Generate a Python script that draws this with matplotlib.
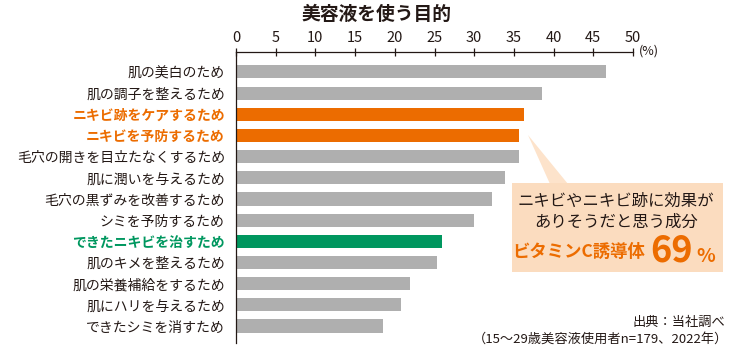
import numpy as np
import matplotlib.pyplot as plt
from matplotlib.patches import Rectangle, Polygon

plt.rcParams['font.family'] = ['Noto Sans CJK JP', 'DejaVu Sans']

# Datos
labels = ['肌の美白のため', '肌の調子を整えるため', 'ニキビ跡をケアするため',
          'ニキビを予防するため', '毛穴の開きを目立たなくするため',
          '肌に潤いを与えるため', '毛穴の黒ずみを改善するため',
          'シミを予防するため', 'できたニキビを治すため',
          '肌のキメを整えるため', '肌の栄養補給をするため',
          '肌にハリを与えるため', 'できたシミを消すため']
values = [46.6, 38.5, 36.3, 35.6, 35.6, 33.9, 32.2, 30.0, 25.9, 25.3,
          21.9, 20.8, 18.5]
groups = ['gray', 'gray', 'orange', 'orange', 'gray', 'gray', 'gray', 'gray',
          'green', 'gray', 'gray', 'gray', 'gray']
ticks = [0, 5, 10, 15, 20, 25, 30, 35, 40, 45, 50]

palette = {'gray': '#AFAFAF', 'orange': '#EC6C00', 'green': '#00975F'}
text_colors = {'gray': '#231815', 'orange': '#EC6C00', 'green': '#00975F'}

W, H = 750, 357
fig = plt.figure(figsize=(W / 100, H / 100), dpi=100)
ax = fig.add_axes([236 / W, 1 - 343 / H, (633 - 236) / W, (343 - 52) / H])

y = np.arange(len(labels))
ax.barh(y, values, height=0.62, color=[palette[g] for g in groups])
ax.set_xlim(0, 50)
ax.set_ylim(12.8, -0.94)

ax.set_yticks(y)
ax.set_yticklabels(labels, fontsize=10)
for lbl, g in zip(ax.get_yticklabels(), groups):
    lbl.set_color(text_colors[g])
    if g != 'gray':
        lbl.set_fontweight('bold')
ax.tick_params(axis='y', length=0, pad=8)

ax.xaxis.tick_top()
ax.set_xticks(ticks)
ax.tick_params(axis='x', direction='inout', length=6, width=0.9,
               labelsize=10.5, pad=2, colors='#231815')
for s in ['right', 'bottom']:
    ax.spines[s].set_visible(False)
for s in ['left', 'top']:
    ax.spines[s].set_linewidth(0.9)
    ax.spines[s].set_color('#231815')

def fx(px):
    return px / W

def fy(py):
    return 1 - py / H

fig.text(fx(376), fy(14), '美容液を使う目的', ha='center', va='center',
         fontsize=13.5, fontweight='bold', color='#231815')
fig.text(fx(639), fy(51), '(%)', ha='left', va='center', fontsize=9,
         color='#231815')

# Globo de texto
box_color = '#FBDCBF'
fig.patches.append(Polygon([(fx(528), fy(135)), (fx(550), fy(184)),
                            (fx(568), fy(184))], closed=True,
                           transform=fig.transFigure, facecolor='#FDE3CB',
                           edgecolor='none'))
fig.patches.append(Rectangle((fx(512), fy(272)), fx(723) - fx(512),
                             fy(183) - fy(272), transform=fig.transFigure,
                             facecolor=box_color, edgecolor='none'))
fig.text(fx(616), fy(201), 'ニキビやニキビ跡に効果が', ha='center', va='center',
         fontsize=11.8, color='#231815')
fig.text(fx(616), fy(222), 'ありそうだと思う成分', ha='center', va='center',
         fontsize=11.8, color='#231815')
fig.text(fx(512), fy(252), 'ビタミンC誘導体', ha='left', va='center',
         fontsize=12.5, fontweight='bold', color='#EC6C00')
fig.text(fx(650), fy(251), '69', ha='left', va='center', fontsize=26,
         fontweight='bold', color='#EC6C00')
fig.text(fx(696), fy(256), '%', ha='left', va='center', fontsize=14,
         fontweight='bold', color='#EC6C00')

fig.text(fx(725), fy(322), '出典：当社調べ', ha='right', va='center',
         fontsize=9.5, color='#231815')
fig.text(fx(728), fy(339), '（15〜29歳美容液使用者n=179、2022年）', ha='right',
         va='center', fontsize=9.5, color='#231815')

fig.savefig('out.png', dpi=100)
